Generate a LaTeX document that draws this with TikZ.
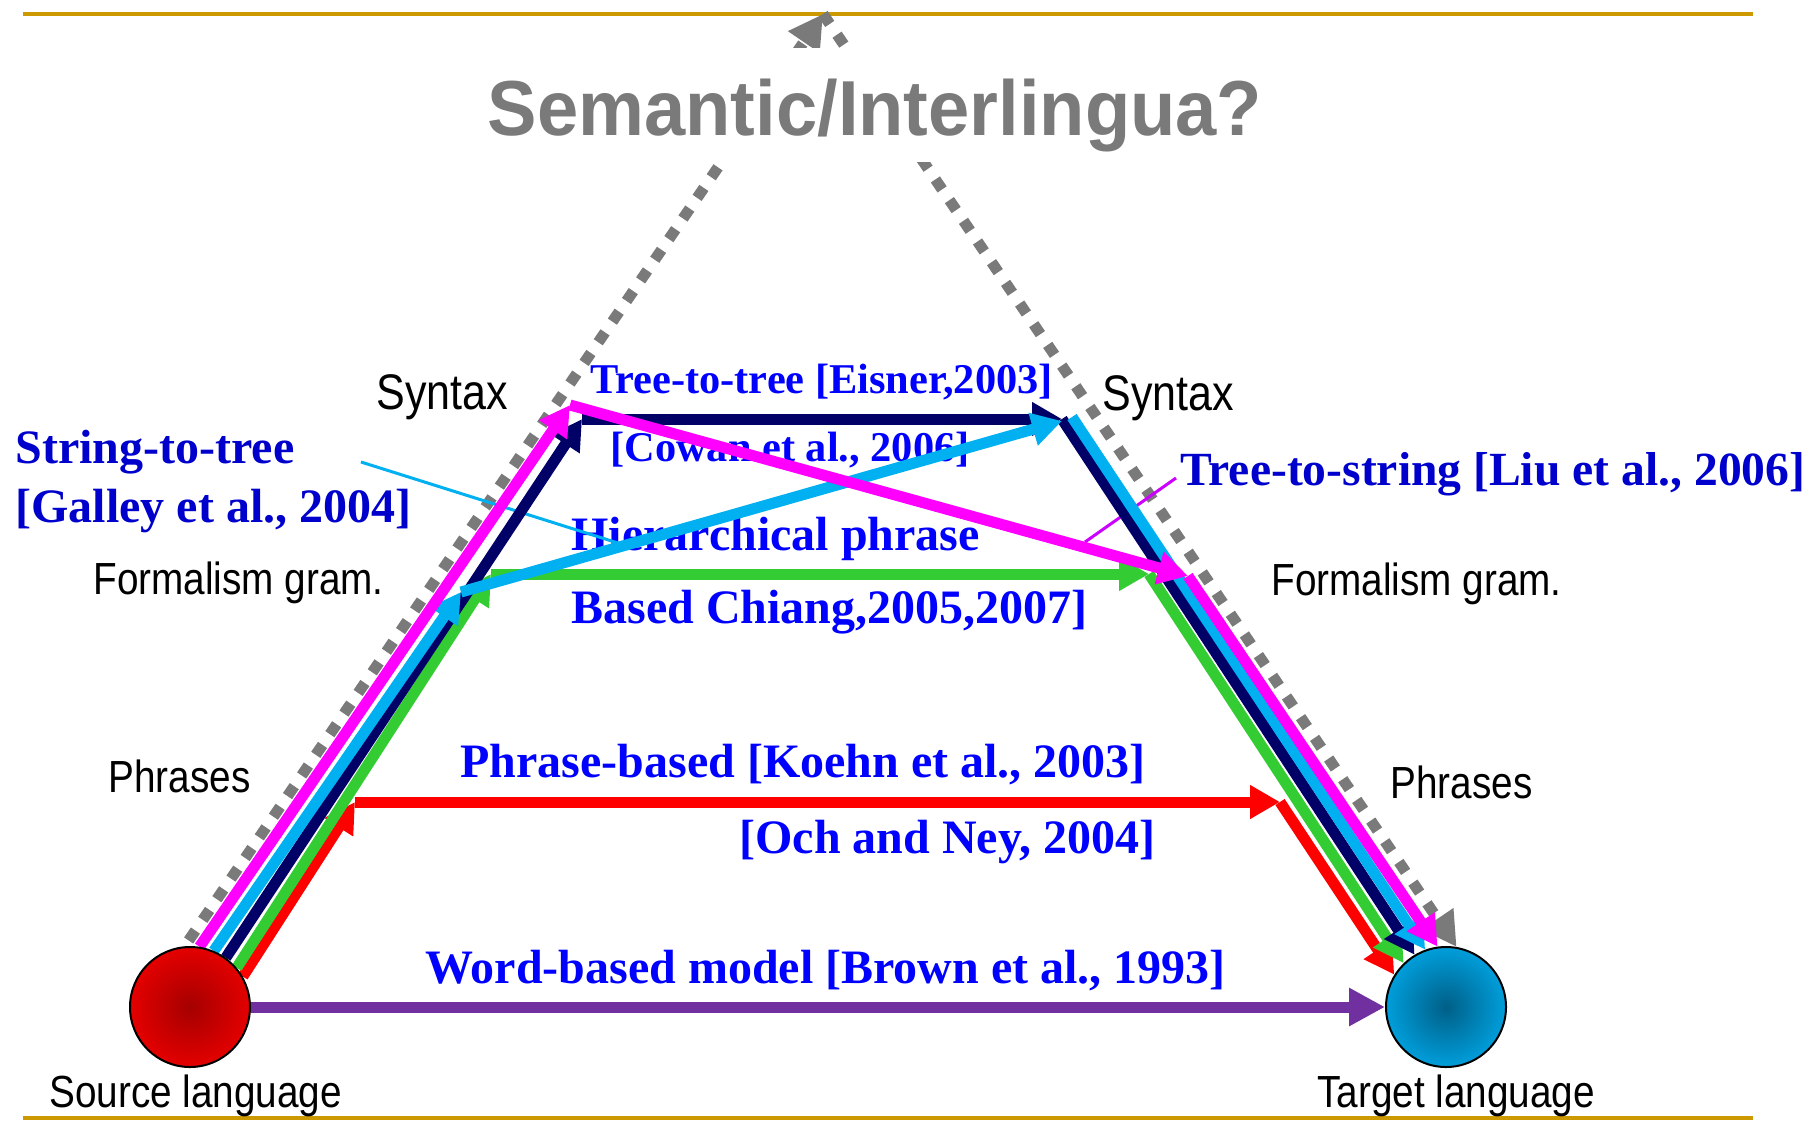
\documentclass[tikz,border=0pt]{standalone}
\usepackage{fontspec}
\setmainfont{Liberation Serif}
\setsansfont{Liberation Sans}
\usepackage{graphicx}
\usepackage{xcolor}
\definecolor{rulegold}{RGB}{204,153,0}
\definecolor{dotgray}{RGB}{122,122,122}
\definecolor{citeblue}{RGB}{0,0,255}
\definecolor{citedark}{RGB}{0,0,204}
\definecolor{pathmag}{RGB}{255,0,255}
\definecolor{pathcyan}{RGB}{0,176,240}
\definecolor{pathnavy}{RGB}{0,0,102}
\definecolor{pathgreen}{RGB}{51,204,51}
\definecolor{pathred}{RGB}{255,0,0}
\definecolor{pathpurple}{RGB}{112,48,160}
\definecolor{pointviolet}{RGB}{204,0,255}
\definecolor{srccore}{RGB}{165,0,0}
\definecolor{srcrim}{RGB}{228,0,0}
\definecolor{tgtcore}{RGB}{0,95,135}
\definecolor{tgtrim}{RGB}{0,158,219}
\usepackage{tikz}
\usetikzlibrary{arrows.meta}
\newcommand{\narrow}[1]{\scalebox{0.86}[1]{#1}}
\pgfdeclarelayer{front}
\pgfsetlayers{main,front}

\begin{document}
\begin{tikzpicture}[x=0.5pt, y=-0.5pt,
    tier/.style={font=\sffamily\fontsize{22.5}{27}\selectfont, anchor=base west, inner sep=0pt},
    citelbl/.style={font=\bfseries\fontsize{24}{29}\selectfont, text=citeblue, anchor=base west, inner sep=0pt},
    citesmall/.style={citelbl, font=\bfseries\fontsize{21.2}{25}\selectfont},
    road/.style={line width=5.5pt, -{Triangle[length=15pt,width=16pt]}},
    ball/.style={circle, draw, line width=1pt, minimum size=60pt, inner sep=0pt},
    dotroute/.style={dotgray, line width=5.5pt, dash pattern=on 6pt off 6.5pt, -{Triangle[length=17pt,width=18pt]}},
    pointer/.style={line width=1.5pt},
  ]
    \useasboundingbox (0,0) rectangle (1814,1120);

    % Rules top and bottom
    \draw[rulegold, line width=2pt] (23,14) -- (1753,14);
    \draw[rulegold, line width=2pt] (23,1118) -- (1753,1118);

    % Source and target languages
    \begin{pgfonlayer}{front}
      \node[ball, inner color=srccore, outer color=srcrim] (src) at (190,1007) {};
      \node[ball, inner color=tgtcore, outer color=tgtrim] (tgt) at (1446,1007) {};
    \end{pgfonlayer}

    % Pyramid sides, to the interlingua
    \coordinate (apex) at (823,14);
    \draw[dotroute, shorten <=3.5pt] (src.95) -- (apex);
    \draw[dotroute] (apex) -- (tgt.80);

    \node[font=\sffamily\bfseries\fontsize{39}{44}\selectfont, text=dotgray, fill=white,
          anchor=base, inner xsep=3pt, inner ysep=5.5pt, text height=38pt, text depth=8pt]
          (title) at (875,135) {\scalebox{0.95}[1]{Semantic/Interlingua?}};

    % Levels
    \node[tier, font=\sffamily\fontsize{25}{30}\selectfont] (synL) at (376,409) {\narrow{Syntax}};
    \node[tier, font=\sffamily\fontsize{25}{30}\selectfont] (synR) at (1102,410) {\narrow{Syntax}};
    \node[tier] (frmL) at (93,594) {\narrow{Formalism gram.}};
    \node[tier] (frmR) at (1271,595) {\narrow{Formalism gram.}};
    \node[tier] (phrL) at (108,792) {\narrow{Phrases}};
    \node[tier] (phrR) at (1390,798) {\narrow{Phrases}};
    \node[tier] (srcname) at (49,1107) {\narrow{Source language}};
    \node[tier] (tgtname) at (1317,1107) {\narrow{Target language}};

    % Approaches
    \node[citesmall] (t2t) at (590,393) {Tree-to-tree [Eisner,2003]};
    \node[citesmall] (cowan) at (610,461) {[Cowan et al., 2006]};
    \node[citelbl] (hier) at (571,550) {Hierarchical phrase};
    \node[citelbl] (chiang) at (571,623) {Based Chiang,2005,2007]};
    \node[citelbl] (pb) at (460,777) {Phrase-based [Koehn et al., 2003]};
    \node[citelbl] (och) at (739,853) {[Och and Ney, 2004]};
    \node[citelbl] (wb) at (425,983) {Word-based model [Brown et al., 1993]};
    \node[citelbl, text=citedark] (s2t) at (15,463) {String-to-tree};
    \node[citelbl, text=citedark] (galley) at (15,522) {[Galley et al., 2004]};
    \node[citelbl, text=citedark, font=\bfseries\fontsize{23.8}{28}\selectfont] (t2s) at (1180,485) {Tree-to-string [Liu et al., 2006]};

    % Label pointers
    \coordinate (s2tA) at (361,462);
    \coordinate (s2tB) at (618,543);
    \coordinate (t2sA) at (1176,478);
    \coordinate (t2sB) at (1085,542);
    \draw[pointer, pathcyan] (s2tA) -- (s2tB);
    \draw[pointer, pointviolet] (t2sA) -- (t2sB);

    % Bend points
    \coordinate (redA) at (355,802);
    \coordinate (redB) at (1280,802);
    \coordinate (grnA) at (491,574);
    \coordinate (grnB) at (1149,574);
    \coordinate (navA) at (582,419);
    \coordinate (navB) at (1062,419);
    \coordinate (cyaA) at (461,592);
    \coordinate (cyaB) at (1062,421);
    \coordinate (cyaC) at (1072,417);
    \coordinate (magA) at (570,405);
    \coordinate (magB) at (1188,576);

    % Word-based
    \draw[road, pathpurple, -{Triangle[length=18pt,width=18pt]}] (src) -- (tgt);
    % Phrase-based
    \draw[road, pathred] (src.30) -- (redA);
    \draw[road, pathred] (redA) -- (redB);
    \draw[road, pathred] (redB) -- (tgt.148);
    % Hierarchical phrase
    \draw[road, pathgreen] (src.40) -- (grnA);
    \draw[road, pathgreen] (grnA) -- (grnB);
    \draw[road, pathgreen] (grnB) -- (tgt.134);
    % Tree-to-tree
    \draw[road, pathnavy] (src.54) -- (navA);
    \draw[road, pathnavy] (navA) -- (navB);
    \draw[road, pathnavy] (navB) -- (tgt.121);
    % String-to-tree
    \draw[road, pathcyan] (src.67) -- (cyaA);
    \draw[road, pathcyan] (cyaA) -- (cyaB);
    \draw[road, pathcyan] (cyaC) -- (tgt.110);
    % Tree-to-string
    \draw[road, pathmag] (src.81) -- (magA);
    \draw[road, pathmag] (magA) -- (magB);
    \draw[road, pathmag] (magB) -- (tgt.98);
  \end{tikzpicture}
\end{document}
